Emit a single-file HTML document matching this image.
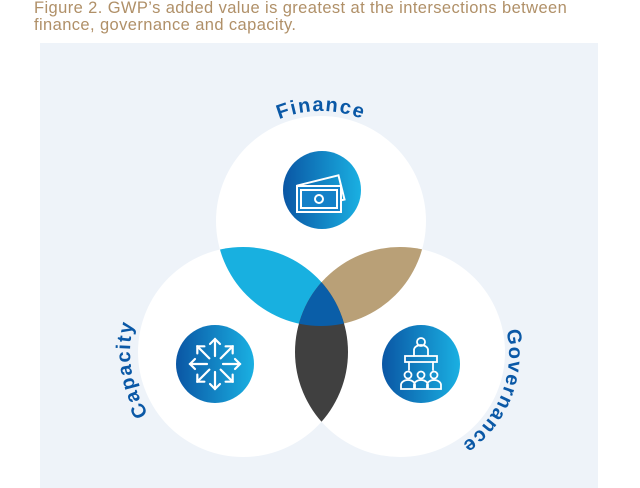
<!DOCTYPE html>
<html><head><meta charset="utf-8"><style>
html,body{margin:0;padding:0;background:#fff;width:640px;height:488px;overflow:hidden}
.t{position:absolute;left:34px;top:0px;font:16.5px/17px "Liberation Sans",sans-serif;color:#b09068;letter-spacing:0.4px}
svg{position:absolute;left:0;top:0}
</style></head><body>
<svg width="640" height="488" viewBox="0 0 640 488">
<defs>
<linearGradient id="g" x1="0" x2="1" y1="0" y2="0"><stop offset="0" stop-color="#0a56a4"/><stop offset="1" stop-color="#1ab0e2"/></linearGradient>
<clipPath id="cT"><circle cx="321" cy="221" r="105"/></clipPath>
<clipPath id="cL"><circle cx="243" cy="352" r="105"/></clipPath>
<clipPath id="cR"><circle cx="400" cy="352" r="105"/></clipPath>
<path id="pF" d="M211,221 A110,110 0 0 1 431,221"/>
<path id="pC" d="M243,465 A113,113 0 0 1 243,239"/>
<path id="pG" d="M400,245 A109,109 0 0 1 400,463"/>
</defs>
<rect x="40" y="43" width="558" height="445" fill="#eef3f9"/>
<circle cx="321" cy="221" r="105" fill="#fff"/>
<circle cx="243" cy="352" r="105" fill="#fff"/>
<circle cx="400" cy="352" r="105" fill="#fff"/>
<g clip-path="url(#cT)"><circle cx="243" cy="352" r="105" fill="#18b0e0"/><circle cx="400" cy="352" r="105" fill="#b9a077"/></g>
<g clip-path="url(#cL)"><circle cx="400" cy="352" r="105" fill="#404040"/></g>
<g clip-path="url(#cT)"><g clip-path="url(#cL)"><circle cx="400" cy="352" r="105" fill="#0a5ea8"/></g></g>
<circle cx="322" cy="190" r="39" fill="url(#g)"/>
<circle cx="215" cy="364" r="39" fill="url(#g)"/>
<circle cx="421" cy="364" r="39" fill="url(#g)"/>
<g fill="none" stroke="#fff" stroke-width="2">
<rect x="300" y="180" width="42" height="25" transform="rotate(-14 321 192)"/>
<rect x="297" y="186" width="44" height="26" fill="#1480c8"/>
<rect x="301" y="190" width="36" height="18"/>
<circle cx="319" cy="199" r="4"/>
</g>
<g stroke="#fff" stroke-width="2.2" fill="none" stroke-linecap="round">
<g transform="translate(215 364)">
<g id="ar"><line x1="0" y1="-8" x2="0" y2="-25"/><polyline points="-5,-20 0,-25 5,-20"/></g>
<use href="#ar" transform="rotate(45)"/><use href="#ar" transform="rotate(90)"/><use href="#ar" transform="rotate(135)"/>
<use href="#ar" transform="rotate(180)"/><use href="#ar" transform="rotate(225)"/><use href="#ar" transform="rotate(270)"/><use href="#ar" transform="rotate(315)"/>
</g>
<g transform="translate(421 364)" stroke-width="1.8">
<circle cx="0" cy="-22" r="4"/>
<path d="M-7,-8 v-6 a7,5 0 0 1 14,0 v6"/>
<rect x="-16" y="-8" width="32" height="6"/>
<line x1="-12" y1="-2" x2="-12" y2="6"/><line x1="12" y1="-2" x2="12" y2="6"/>
<circle cx="-13" cy="11" r="3.5"/><circle cx="0" cy="11" r="3.5"/><circle cx="13" cy="11" r="3.5"/>
<path d="M-20,25 v-4 a7,5 0 0 1 14,0 v4 z M-7,25 v-4 a7,5 0 0 1 14,0 v4 z M6,25 v-4 a7,5 0 0 1 14,0 v4 z"/>
</g>
</g>
<g font-family="Liberation Sans, sans-serif" font-size="20" font-weight="bold" fill="#0a58a6" letter-spacing="1.5">
<text><textPath href="#pF" startOffset="50%" text-anchor="middle">Finance</textPath></text>
<text><textPath href="#pC" startOffset="45%" text-anchor="middle">Capacity</textPath></text>
<text><textPath href="#pG" startOffset="62%" text-anchor="middle">Governance</textPath></text>
</g>
</svg>
<div class="t">Figure 2. GWP’s added value is greatest at the intersections between<br>finance, governance and capacity.</div>
</body></html>
